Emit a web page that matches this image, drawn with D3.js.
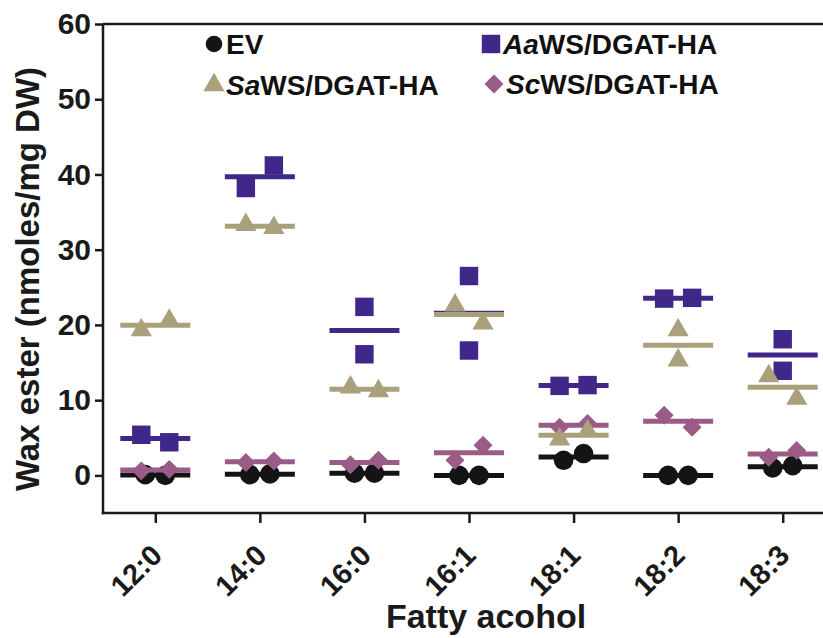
<!DOCTYPE html>
<html>
<head>
<meta charset="utf-8">
<script src="https://cdn.jsdelivr.net/npm/d3@7"></script>
<style>
  html, body { margin: 0; padding: 0; background: #fff; }
  svg { display: block; font-family: "Liberation Sans", Arial, sans-serif; }
</style>
</head>
<body>
<div id="viz"></div>
<script>
// fatty alcohol chain lengths on the x axis
const categories = ["12:0", "14:0", "16:0", "16:1", "18:1", "18:2", "18:3"];

// two replicates per construct (nmoles/mg DW)
const evRep1 = [0.1, 0.1, 0.3, 0.0, 2.0, 0.0, 1.0];
const evRep2 = [0.0, 0.2, 0.3, 0.0, 2.9, 0.0, 1.3];
const aaRep1 = [5.4, 38.2, 22.4, 26.5, 11.9, 23.5, 18.1];
const aaRep2 = [4.4, 41.2, 16.1, 16.6, 12.0, 23.6, 13.9];
const saRep1 = [19.3, 33.3, 11.7, 22.6, 4.8, 19.3, 13.2];
const saRep2 = [20.6, 32.9, 11.2, 20.2, 5.9, 15.3, 10.2];
const scRep1 = [0.6, 1.7, 1.4, 2.0, 6.4, 8.0, 2.4];
const scRep2 = [0.8, 1.9, 2.0, 4.0, 6.9, 6.4, 3.3];

const yTicks = [0, 10, 20, 30, 40, 50, 60];

const width = 823, height = 638;
const plotLeft = 103, plotRight = 835, plotTop = 24, plotBottom = 513;
const font = "'Liberation Sans', Arial, sans-serif";

const series = [
    { key: "ev", prefix: "", suffix: "EV", reps: [evRep1, evRep2], color: "#141414", shape: "circle", spread: 10 },
    { key: "aa", prefix: "Aa", suffix: "WS/DGAT-HA", reps: [aaRep1, aaRep2], color: "#40288a", shape: "square", spread: 14 },
    { key: "sc", prefix: "Sc", suffix: "WS/DGAT-HA", reps: [scRep1, scRep2], color: "#9a5c86", shape: "diamond", spread: 14 },
    { key: "sa", prefix: "Sa", suffix: "WS/DGAT-HA", reps: [saRep1, saRep2], color: "#aaa07c", shape: "triangle", spread: 14 }
];

const symbolPath = (shape, scale) => {
    const k = scale || 1;
    if (shape === "circle") return d3.symbol(d3.symbolCircle, 300 * k * k)();
    if (shape === "square") return d3.symbol(d3.symbolSquare, 340 * k * k)();
    if (shape === "diamond") return d3.symbol(d3.symbolSquare, 180 * k * k)();
    return d3.symbol(d3.symbolTriangle, 195 * k * k)();
};
const symbolRotate = (shape) => shape === "diamond" ? " rotate(45)" : "";

const svg = d3.select("#viz").append("svg")
    .attr("width", width)
    .attr("height", height);

const x = d3.scalePoint()
    .domain(categories)
    .range([plotLeft, plotRight])
    .padding(0.5);

const y = d3.scaleLinear()
    .domain([-5, 60])
    .range([plotBottom, plotTop]);

// frame: top line, y axis, x axis
svg.append("line")
    .attr("x1", plotLeft).attr("x2", plotRight)
    .attr("y1", y(60)).attr("y2", y(60))
    .attr("stroke", "#1a1a1a").attr("stroke-width", 2.5);

const yAxis = svg.append("g")
    .attr("transform", `translate(${plotLeft},0)`)
    .call(d3.axisLeft(y).tickValues(yTicks).tickSize(8).tickPadding(4).tickSizeOuter(0));

const xAxis = svg.append("g")
    .attr("transform", `translate(0,${plotBottom})`)
    .call(d3.axisBottom(x).tickSize(10).tickSizeOuter(0));

[yAxis, xAxis].forEach(g => {
    g.select(".domain").attr("stroke", "#1a1a1a").attr("stroke-width", 2.5);
    g.selectAll(".tick line").attr("stroke", "#1a1a1a").attr("stroke-width", 2.5);
});
// stretch the y axis line to meet the x axis corner cleanly
yAxis.select(".domain").attr("d", `M0,${plotTop}V${plotBottom + 1.2}`);
xAxis.select(".domain").attr("d", `M${plotLeft - 1.2},0H${plotRight}`);

yAxis.selectAll(".tick text")
    .attr("font-family", font)
    .attr("font-size", 30)
    .attr("font-weight", "bold")
    .attr("fill", "#1a1a1a");

xAxis.selectAll(".tick text")
    .attr("font-family", font)
    .attr("font-size", 29)
    .attr("font-weight", "bold")
    .attr("fill", "#1a1a1a")
    .attr("text-anchor", "end")
    .attr("dy", 0)
    .attr("y", 0)
    .attr("transform", "translate(8,44) rotate(-45)");

// axis titles
svg.append("text")
    .attr("x", 486)
    .attr("y", 628)
    .attr("text-anchor", "middle")
    .attr("font-family", font)
    .attr("font-size", 34)
    .attr("font-weight", "bold")
    .attr("fill", "#1a1a1a")
    .text("Fatty acohol");

svg.append("text")
    .attr("transform", "translate(39,279) rotate(-90)")
    .attr("text-anchor", "middle")
    .attr("font-family", font)
    .attr("font-size", 33)
    .attr("font-weight", "bold")
    .attr("fill", "#1a1a1a")
    .text("Wax ester (nmoles/mg DW)");

// points and mean lines
const half = 35;
series.forEach(s => {
    const g = svg.append("g").attr("class", "series-" + s.key);
    categories.forEach((c, i) => {
        const vals = s.reps.map(r => r[i]);
        const cx = x(c);
        const mean = d3.mean(vals);
        // spread replicates sideways only when the symbols would overlap
        const close = Math.abs(y(vals[0]) - y(vals[1])) < 26;
        const offsets = vals.map((v, j) => close ? (j === 0 ? -s.spread : s.spread) : 0);

        g.append("line")
            .attr("x1", cx - half).attr("x2", cx + half)
            .attr("y1", y(mean)).attr("y2", y(mean))
            .attr("stroke", s.color)
            .attr("stroke-width", 5);

        g.selectAll(null)
            .data(vals)
            .join("path")
            .attr("d", symbolPath(s.shape))
            .attr("transform", (v, j) => `translate(${cx + offsets[j]},${y(v)})${symbolRotate(s.shape)}`)
            .attr("fill", s.color);
    });
});

// legend
const legendItems = [
    { s: series[0], x: 214, y: 44 },
    { s: series[1], x: 491, y: 44 },
    { s: series[3], x: 214, y: 85 },
    { s: series[2], x: 494, y: 84 }
];

legendItems.forEach(item => {
    const s = item.s;
    svg.append("path")
        .attr("d", symbolPath(s.shape, s.shape === "circle" ? 0.85 : 1))
        .attr("transform", `translate(${item.x},${item.y})${symbolRotate(s.shape)}`)
        .attr("fill", s.color);

    const t = svg.append("text")
        .attr("x", item.x + 12)
        .attr("y", item.y + 10)
        .attr("font-family", font)
        .attr("font-size", 28)
        .attr("font-weight", "bold")
        .attr("fill", "#111");
    if (s.prefix) t.append("tspan").attr("font-style", "italic").text(s.prefix);
    t.append("tspan").text(s.suffix);
});
</script>
</body>
</html>
